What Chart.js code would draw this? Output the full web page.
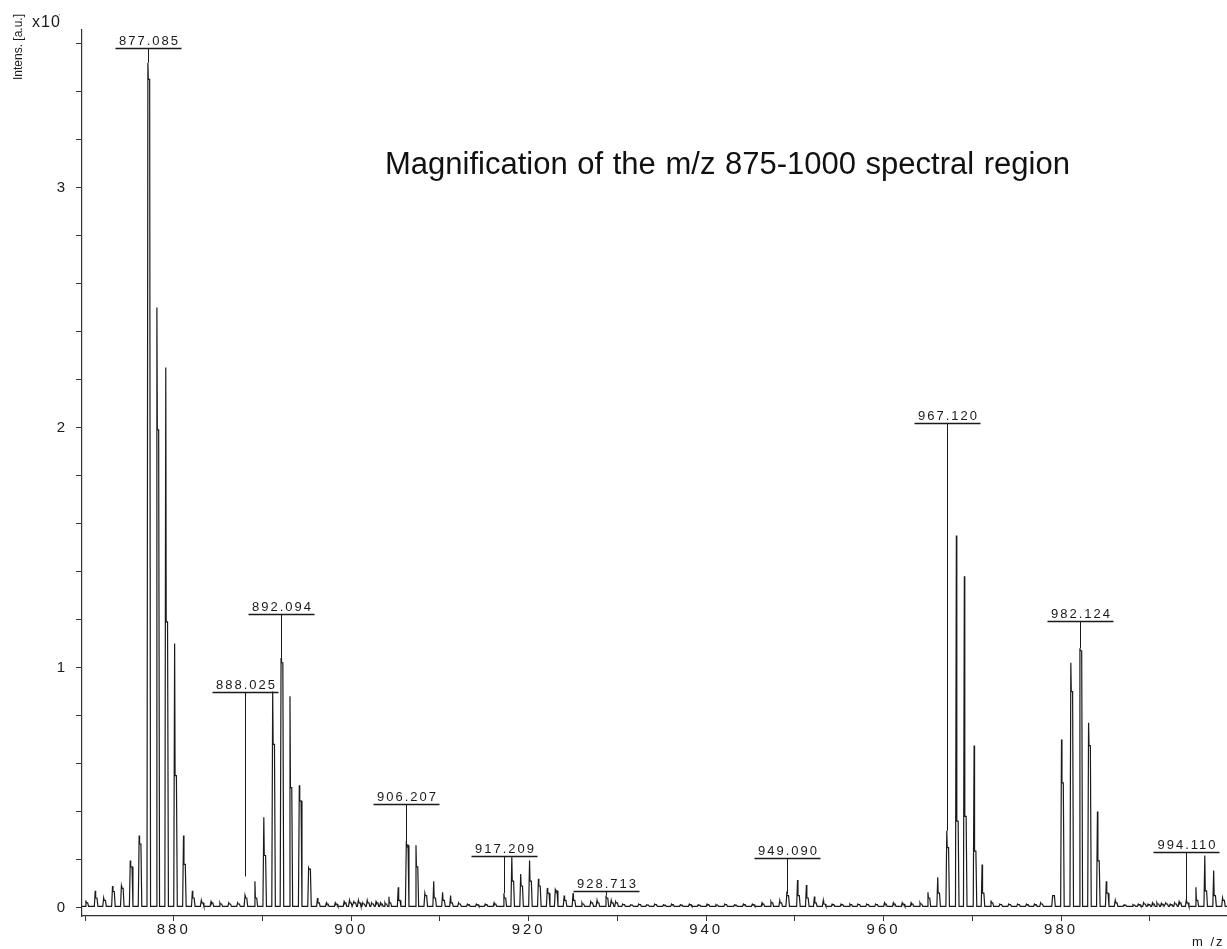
<!DOCTYPE html>
<html>
<head>
<meta charset="utf-8">
<script src="https://cdn.jsdelivr.net/npm/chart.js@4.4.1/dist/chart.umd.min.js"></script>
<style>
  html, body { margin: 0; padding: 0; background: #fff; }
  #wrap { width: 1227px; height: 949px; position: relative; }
</style>
</head>
<body>
<div id="wrap"><canvas id="spec"></canvas></div>
<script>
// axis ticks
const xTicks = [870, 880, 890, 900, 910, 920, 930, 940, 950, 960, 970, 980, 990];
const xLabelValues = [880, 900, 920, 940, 960, 980];
const yTicks = [0, 0.2, 0.4, 0.6, 0.8, 1, 1.2, 1.4, 1.6, 1.8, 2, 2.2, 2.4, 2.6, 2.8, 3, 3.2, 3.4, 3.6];
const yLabelValues = [0, 1, 2, 3];

// peaks (m/z, tip intensity, shoulder intensity) in units of 10^4
const peakMz = [
  870.1, 871.15, 872.1, 873.1, 874.1, 875.1, 876.1, 877.085, 878.1, 879.1, 880.1, 881.1, 882.1, 883.1, 884.2, 885.2, 886.2, 887.2,
  888.03, 889.15, 890.15, 891.15, 892.094, 893.1, 894.15, 895.2, 896.2, 897.2, 898.2, 899.2,
  899.8, 900.3, 900.8, 901.3, 901.8, 902.3, 902.8, 903.3, 903.8,
  904.25, 905.3, 906.207, 907.3, 908.3, 909.3, 910.3, 911.2, 912.1, 913.1, 914.1, 915.1, 916.1,
  917.209, 918.1, 919.1, 920.1, 921.1, 922.1, 923.0, 924.0, 925.0, 926.0, 927.0, 927.7, 928.713, 929.3, 929.8,
  930.6, 931.5, 932.4, 933.3, 934.2, 935.2, 936.1, 937.1, 938.1, 939.1, 940.1, 941.1, 942.1, 943.2, 944.2, 945.2, 946.3, 947.3, 948.3,
  949.09, 950.3, 951.3, 952.2, 953.2, 954.2, 955.2, 956.2, 957.1, 958.1, 959.1, 960.1, 961.1, 962.1, 963.1, 964.1,
  965.0, 966.1, 967.12, 968.2, 969.1, 970.2, 971.1, 972.1, 973.1, 974.1, 975.1, 976.1, 977.0, 977.7,
  979.05, 980.05, 981.1, 982.124, 983.1, 984.1, 985.1, 986.1, 987.1, 988.1,
  988.7, 989.3, 989.8, 990.3, 990.8, 991.3, 991.8, 992.3, 992.8, 993.3,
  994.11, 995.2, 996.2, 997.2, 998.2
];
const peakTop = [
  0.03, 0.07, 0.04, 0.09, 0.09, 0.196, 0.30, 3.52, 2.50, 2.25, 1.10, 0.30, 0.07, 0.03, 0.025, 0.02, 0.02, 0.02,
  0.05, 0.11, 0.376, 0.90, 1.04, 0.88, 0.51, 0.165, 0.04, 0.02, 0.02, 0.025,
  0.03, 0.025, 0.03, 0.02, 0.03, 0.02, 0.025, 0.02, 0.02,
  0.045, 0.085, 0.265, 0.26, 0.06, 0.11, 0.064, 0.05, 0.02, 0.015, 0.015, 0.015, 0.02,
  0.06, 0.21, 0.14, 0.196, 0.12, 0.082, 0.075, 0.05, 0.06, 0.02, 0.025, 0.03, 0.05, 0.03, 0.025,
  0.015, 0.012, 0.015, 0.012, 0.015, 0.012, 0.015, 0.012, 0.015, 0.012, 0.015, 0.012, 0.015, 0.012, 0.015, 0.015, 0.02, 0.025, 0.03,
  0.057, 0.115, 0.094, 0.046, 0.03, 0.015, 0.015, 0.015, 0.015, 0.015, 0.015, 0.02, 0.02, 0.02, 0.02, 0.02,
  0.064, 0.126, 0.32, 1.55, 1.38, 0.675, 0.18, 0.03, 0.015, 0.015, 0.015, 0.015, 0.015, 0.02,
  0.05, 0.70, 1.02, 1.08, 0.77, 0.40, 0.11, 0.03, 0.012, 0.012,
  0.015, 0.02, 0.015, 0.02, 0.02, 0.018, 0.02, 0.015, 0.02, 0.025,
  0.03, 0.085, 0.217, 0.155, 0.04
];
const peakShoulder = [
  0.02, 0.04, 0.03, 0.067, 0.08, 0.17, 0.265, 3.45, 1.99, 1.19, 0.55, 0.18, 0.04, 0.02, 0.02, 0.015, 0.015, 0.015,
  0.04, 0.04, 0.217, 0.68, 1.02, 0.50, 0.445, 0.16, 0.02, 0.015, 0.015, 0.02,
  0.02, 0.02, 0.02, 0.015, 0.02, 0.015, 0.02, 0.015, 0.015,
  0.02, 0.03, 0.26, 0.17, 0.05, 0.04, 0.03, 0.02, 0.015, 0.012, 0.012, 0.012, 0.015,
  0.04, 0.11, 0.09, 0.11, 0.09, 0.06, 0.07, 0.03, 0.03, 0.015, 0.02, 0.02, 0.04, 0.02, 0.02,
  0.012, 0.01, 0.012, 0.01, 0.012, 0.01, 0.012, 0.01, 0.012, 0.01, 0.012, 0.01, 0.012, 0.01, 0.012, 0.012, 0.015, 0.02, 0.02,
  0.05, 0.05, 0.04, 0.02, 0.015, 0.012, 0.012, 0.012, 0.012, 0.012, 0.012, 0.015, 0.015, 0.015, 0.015, 0.015,
  0.04, 0.06, 0.25, 0.36, 0.38, 0.235, 0.06, 0.02, 0.012, 0.012, 0.012, 0.012, 0.012, 0.015,
  0.05, 0.52, 0.90, 1.07, 0.675, 0.195, 0.06, 0.02, 0.01, 0.01,
  0.012, 0.015, 0.012, 0.015, 0.015, 0.014, 0.015, 0.012, 0.015, 0.02,
  0.02, 0.03, 0.07, 0.05, 0.03
];
const baseLevel = 0.005;

// peak annotations
const labelText = ['877.085', '888.025', '892.094', '906.207', '917.209', '928.713', '949.090', '967.120', '982.124', '994.110'];
const labelBarY = [3.58, 0.90, 1.225, 0.433, 0.217, 0.07, 0.207, 2.02, 1.196, 0.23];
const labelPeakY = [3.52, 0.13, 1.04, 0.265, 0.06, 0.05, 0.057, 0.32, 1.08, 0.03];

const xMin = 869.66, xMax = 998.7;
const yMin = -0.035, yMax = 3.656;

const FONT = '"Liberation Sans", Arial, sans-serif';
const INK = '#1a1a1a';

// build the profile line from the peak list
const spectrum = [{ x: xMin, y: baseLevel }];
peakMz.forEach((m, i) => {
  spectrum.push(
    { x: m - 0.1, y: baseLevel },
    { x: m, y: peakTop[i] },
    { x: m + 0.05, y: peakShoulder[i] },
    { x: m + 0.2, y: peakShoulder[i] },
    { x: m + 0.3, y: baseLevel }
  );
});
spectrum.push({ x: xMax, y: baseLevel });

const decor = {
  id: 'decor',
  beforeDraw(chart) {
    chart.ctx.letterSpacing = '3px';
  },
  afterDatasetsDraw(chart) {
    const { ctx, scales } = chart;
    const xs = scales.x, ys = scales.y;
    ctx.save();
    ctx.strokeStyle = INK;
    ctx.fillStyle = INK;
    ctx.font = '13px ' + FONT;
    ctx.letterSpacing = '2px';
    ctx.textAlign = 'center';
    ctx.textBaseline = 'alphabetic';
    labelText.forEach((t, i) => {
      const px = Math.round(xs.getPixelForValue(parseFloat(t))) + 0.5;
      const by = Math.round(ys.getPixelForValue(labelBarY[i])) + 0.5;
      const py = ys.getPixelForValue(labelPeakY[i]);
      ctx.lineWidth = 1.3;
      ctx.beginPath();
      ctx.moveTo(px - 33, by);
      ctx.lineTo(px + 33, by);
      ctx.stroke();
      ctx.lineWidth = 1;
      ctx.beginPath();
      ctx.moveTo(px, by);
      ctx.lineTo(px, py);
      ctx.stroke();
      ctx.fillText(t, px + 1, by - 4);
    });

    // title
    ctx.letterSpacing = '0px';
    ctx.wordSpacing = '1px';
    ctx.fillStyle = '#111';
    ctx.font = '31px ' + FONT;
    ctx.textAlign = 'left';
    ctx.fillText('Magnification of the m/z 875-1000 spectral region', 385, 174);
    ctx.wordSpacing = '0px';

    // axis captions
    ctx.fillStyle = INK;
    ctx.font = '12px ' + FONT;
    ctx.save();
    ctx.translate(22, 80);
    ctx.rotate(-Math.PI / 2);
    ctx.textAlign = 'left';
    ctx.fillText('Intens. [a.u.]', 0, 0);
    ctx.restore();
    ctx.font = '16px ' + FONT;
    ctx.letterSpacing = '1px';
    ctx.fillText('x10', 32, 27);
    ctx.font = '6px ' + FONT;
    ctx.fillText("'", 59, 18);
    ctx.font = '13px ' + FONT;
    ctx.letterSpacing = '2px';
    ctx.fillText('m /z', 1192, 946);
    ctx.restore();
  }
};

new Chart(document.getElementById('spec'), {
  type: 'line',
  data: {
    datasets: [{
      data: spectrum,
      borderColor: INK,
      borderWidth: 1.2,
      pointRadius: 0,
      fill: false,
      tension: 0
    }]
  },
  options: {
    responsive: true,
    maintainAspectRatio: false,
    animation: false,
    layout: { padding: { top: 30, right: 0, left: 0, bottom: 0 } },
    plugins: { legend: { display: false }, tooltip: { enabled: false }, title: { display: false } },
    scales: {
      x: {
        type: 'linear',
        min: xMin,
        max: xMax,
        afterBuildTicks: (s) => { s.ticks = xTicks.map(v => ({ value: v })); },
        afterFit: (s) => { s.height = 33; },
        grid: { display: true, drawOnChartArea: false, drawTicks: true, tickLength: 5, color: '#333' },
        border: { display: true, color: '#333', width: 1.2 },
        ticks: {
          autoSkip: false, maxRotation: 0, padding: 0, color: INK,
          font: { family: FONT, size: 15 },
          callback: (v) => xLabelValues.includes(v) ? String(v) : ''
        }
      },
      y: {
        type: 'linear',
        min: yMin,
        max: yMax,
        afterBuildTicks: (s) => { s.ticks = yTicks.map(v => ({ value: v })); },
        afterFit: (s) => { s.width = 82; },
        grid: { display: true, drawOnChartArea: false, drawTicks: true, tickLength: 6, color: '#333' },
        border: { display: true, color: '#333', width: 1.2 },
        ticks: {
          autoSkip: false, padding: 8, color: INK,
          font: { family: FONT, size: 15 },
          callback: (v) => yLabelValues.includes(v) ? String(v) : ''
        }
      }
    }
  },
  plugins: [decor]
});
</script>
</body>
</html>
